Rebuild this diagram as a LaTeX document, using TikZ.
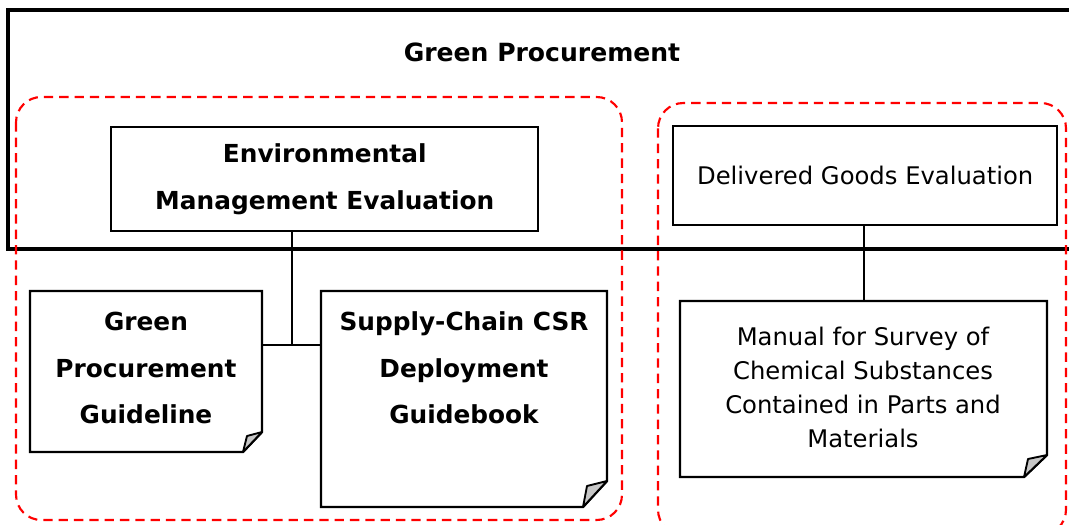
\documentclass[tikz,border=0pt]{standalone}
\usepackage{fontspec}
\setmainfont{DejaVu Sans}
\begin{document}
\begin{tikzpicture}[x=0.75pt,y=-0.75pt,
  box/.style={draw=black,line width=1.8pt,fill=white},
  conn/.style={draw=black,line width=2.2pt},
  grp/.style={draw=red,line width=1.6pt,dash pattern=on 7pt off 4.5pt,rounded corners=19pt},
  fold/.style={draw=black,line width=1.4pt,fill=black!22,line join=round},
  bt/.style={font=\fontsize{18.6}{35}\selectfont\bfseries,align=center,inner sep=0pt},
  nt/.style={font=\fontsize{18.2}{25.5}\selectfont,align=center,inner sep=0pt}]
\useasboundingbox (0,0) rectangle (1069,524);
\fill[white] (0,0) rectangle (1069,524);
% outer frame
\draw[line width=3.3pt] (1075,10) -- (8,10) -- (8,249) -- (1075,249);
\node[font=\fontsize{18.8}{20}\selectfont\bfseries,inner sep=0pt] (title) at (542,52) {Green Procurement};
% groups
\draw[grp] (16,97) rectangle (622,520);
\draw[grp] (658,103) rectangle (1066,535);
% environmental box
\node[box,minimum width=427*0.75pt,minimum height=104*0.75pt,anchor=north west] (env) at (110,126) {};
\node[bt] (envt) at (env.center) {Environmental\\Management Evaluation};
% delivered box
\node[box,minimum width=384*0.75pt,minimum height=99*0.75pt,anchor=north west] (del) at (672,125) {};
\node[nt] at (del.center) {Delivered Goods Evaluation};
% folded boxes
\draw[box] (30,291) -- (262,291) -- (262,432) -- (243,452) -- (30,452) -- cycle;
\draw[fold] (243,452) -- (247,436) -- (262,432) -- cycle;
\node[bt] (gl) at (146,368) {Green\\Procurement\\Guideline};
\draw[box] (321,291) -- (607,291) -- (607,481) -- (583,507) -- (321,507) -- cycle;
\draw[fold] (583,507) -- (587,486) -- (607,481) -- cycle;
\node[bt] (sc) at (464,368) {Supply-Chain CSR\\Deployment\\Guidebook};
\draw[box] (680,301) -- (1047,301) -- (1047,455) -- (1024,477) -- (680,477) -- cycle;
\draw[fold] (1024,477) -- (1028,459) -- (1047,455) -- cycle;
\node[nt] (man) at (863,387) {Manual for Survey of\\Chemical Substances\\Contained in Parts and\\Materials};
% connectors
\coordinate (gR) at (263,345);
\coordinate (sL) at (321,345);
\coordinate (jn) at (292,345);
\draw[conn] (gR) -- (sL);
\draw[conn] (env.south -| jn) -- (jn);
\coordinate (mt) at (864,301);
\draw[conn] (del.south -| mt) -- (mt);
\end{tikzpicture}
\end{document}
